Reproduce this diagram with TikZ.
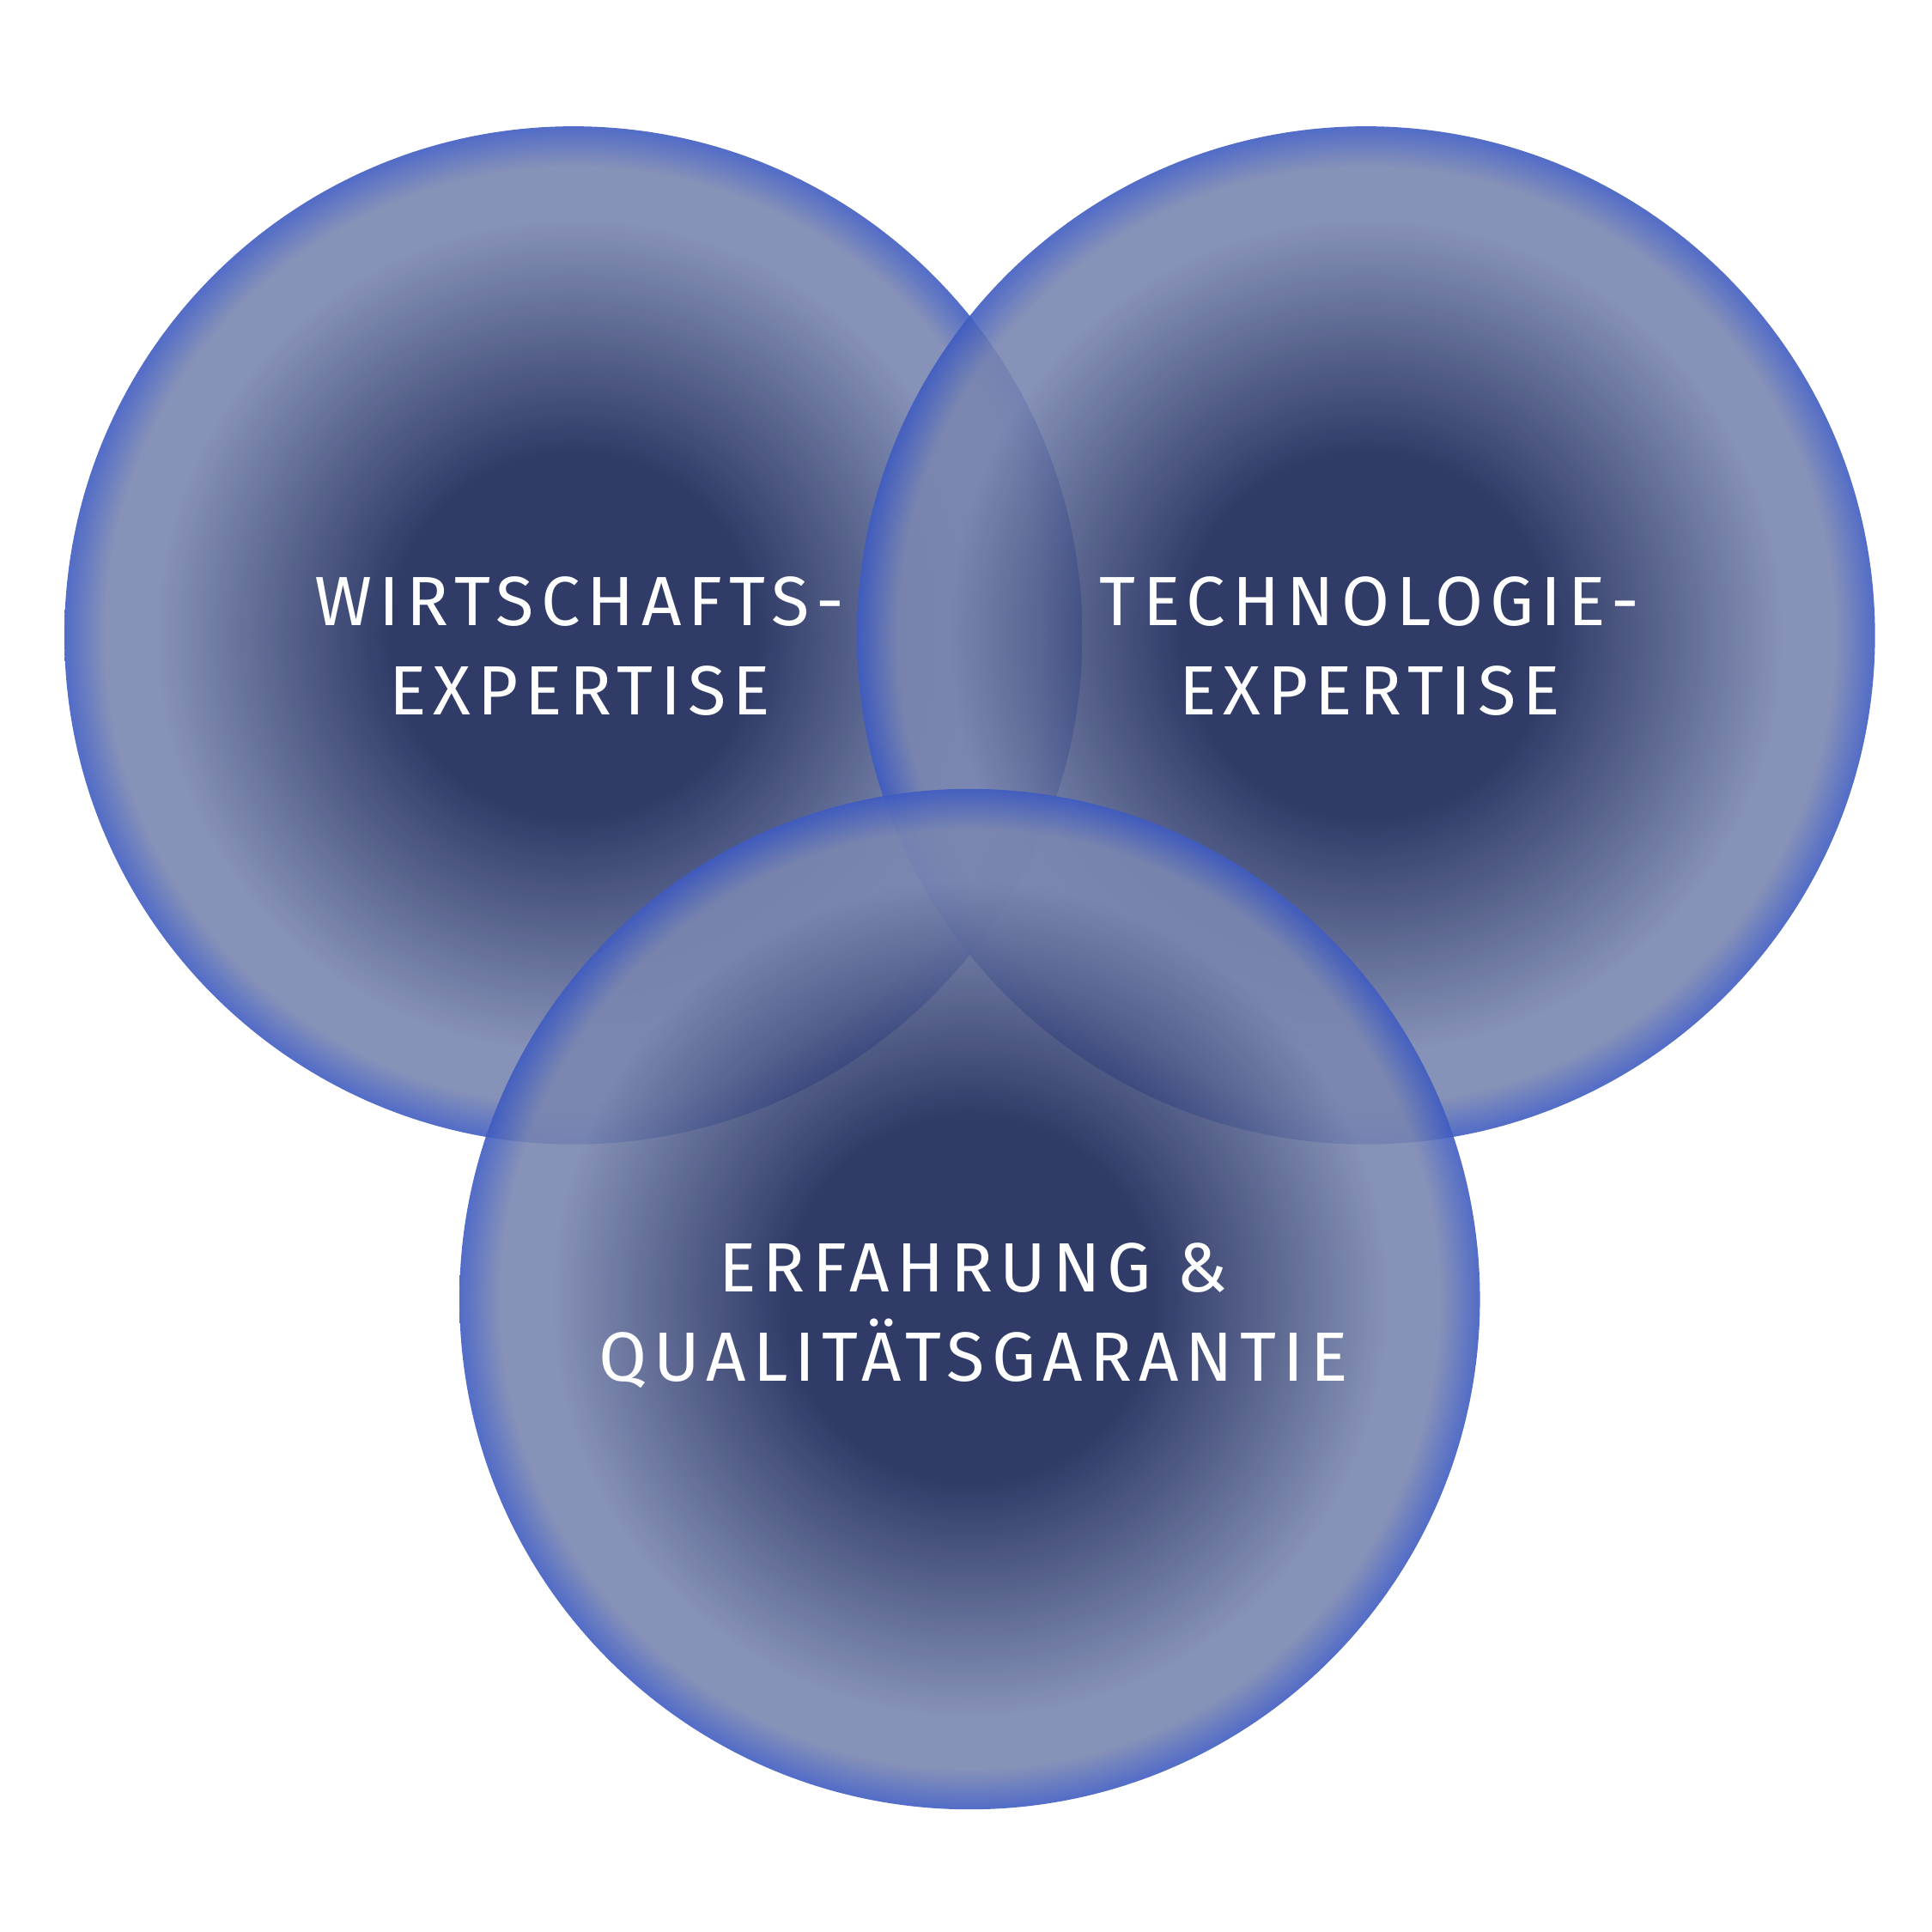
\documentclass[tikz,border=0pt]{standalone}
\usepackage{fontspec}
\setmainfont[LetterSpace=10]{Fira Sans}
\usepackage{tikz}
\definecolor{vdark}{HTML}{1A2658}
\definecolor{vgrey}{HTML}{7A86B0}
\definecolor{vblue}{HTML}{3F5CC2}
\pgfdeclareradialshading{venn}{\pgfpoint{0bp}{0bp}}{%
  color(0bp)=(vdark);
  color(9bp)=(vdark);
  color(20.5bp)=(vgrey);
  color(23bp)=(vgrey);
  color(25bp)=(vblue);
  color(50bp)=(vblue)}

\begin{document}
\begin{tikzpicture}[x=0.01cm,y=-0.01cm,
  every node/.style={text=white,align=center,font=\fontsize{16}{20.5}\selectfont},
  blob/.style={shading=venn,fill opacity=0.9}]
    % frame
    \useasboundingbox (0,0) rectangle (1560,1560);
    % circles
    \shade[blob] (463,513) circle (411);
    \shade[blob] (1103,513) circle (411);
    \shade[blob] (783,1049) circle (412);
    % labels
    \node (wirt) at (468,522) {WIRTSCHAFTS-\\EXPERTISE};
    \node (tech) at (1106,522) {TECHNOLOGIE-\\EXPERTISE};
    \node (erf) at (786,1062) {ERFAHRUNG \&\\QUALITÄTSGARANTIE};
\end{tikzpicture}
\end{document}
